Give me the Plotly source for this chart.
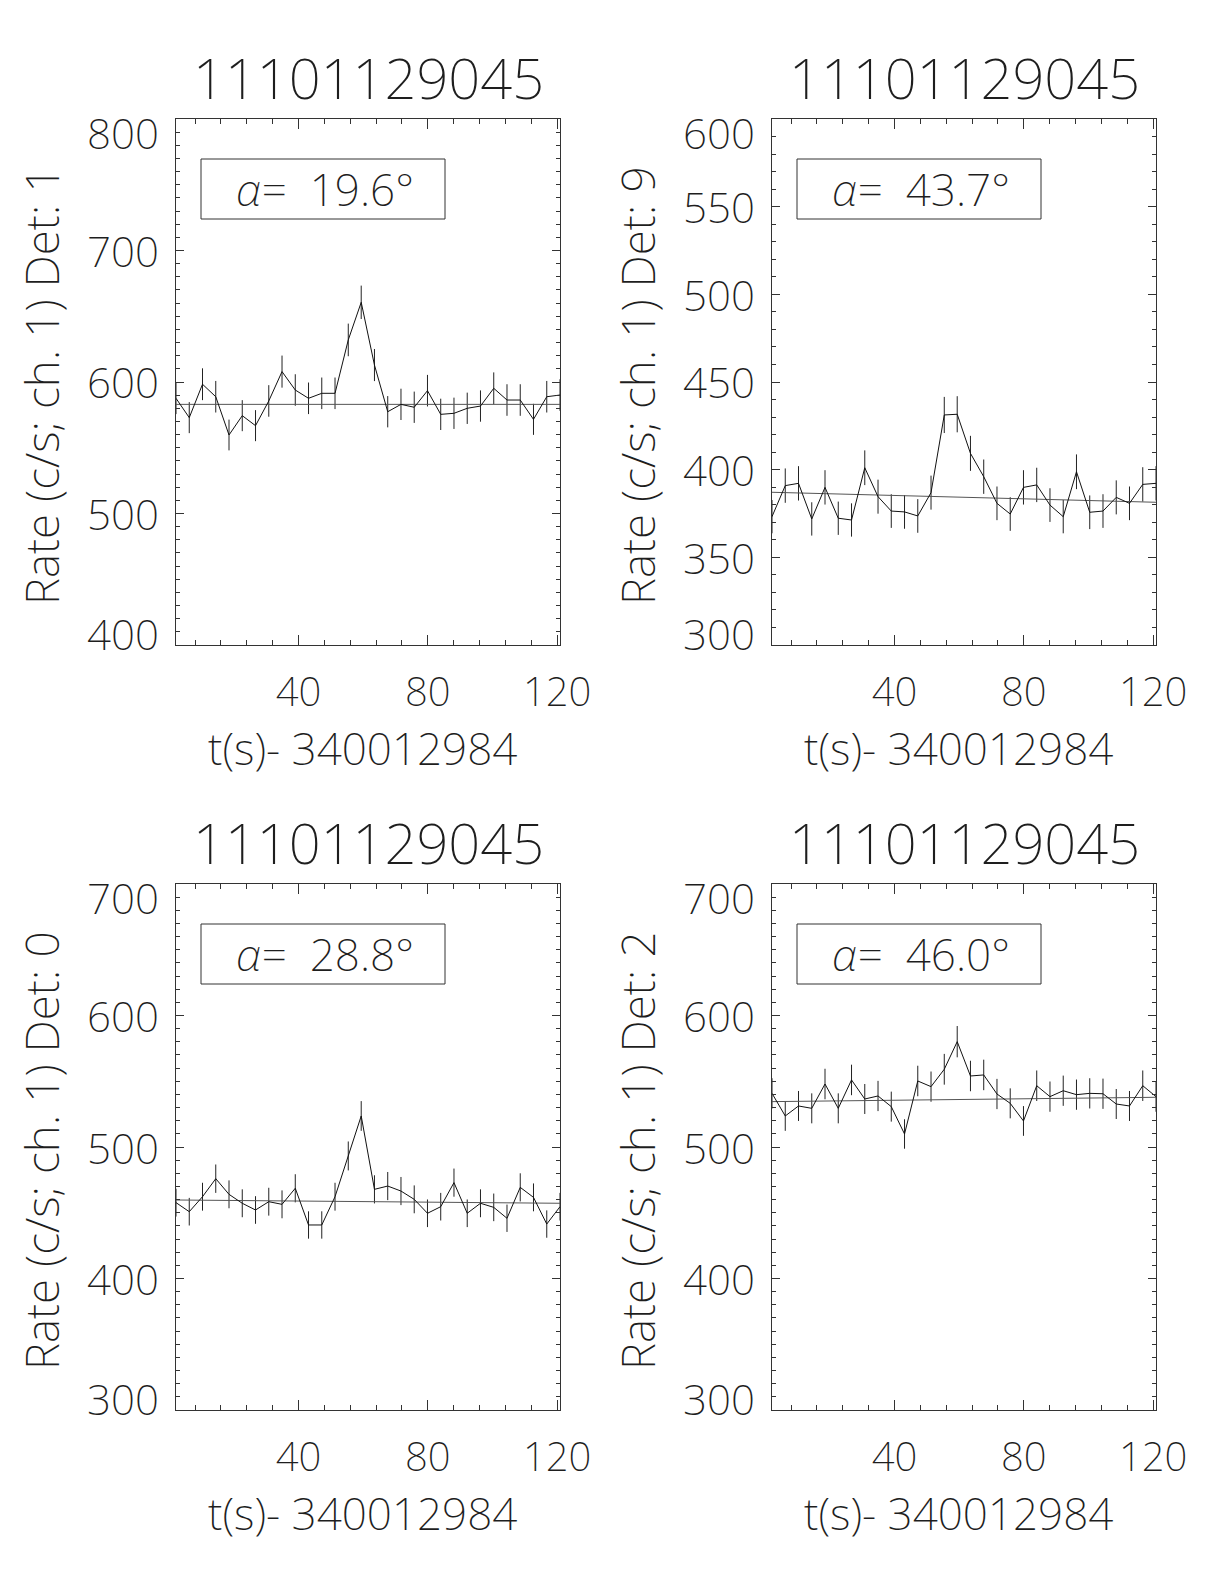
import plotly.graph_objects as go

# page body adds an 8px margin; lay out in page pixels and shift by it
PAGE_W, PAGE_H = 1224, 1584
OFF = 8
W, H = PAGE_W - OFF, PAGE_H - OFF

# ---- data ----
time_s = [2.1, 6.2, 10.3, 14.4, 18.5, 22.6, 26.7, 30.8, 34.9, 39.0,
          43.1, 47.2, 51.3, 55.4, 59.4, 63.5, 67.6, 71.7, 75.8, 79.9,
          84.0, 88.1, 92.2, 96.3, 100.4, 104.5, 108.6, 112.7, 116.8, 120.9]

rate_det1 = [587.6, 572.9, 598.3, 588.8, 559.7, 574.4, 566.8, 585.6, 607.9, 593.9,
             587.6, 591.4, 591.4, 632.0, 660.6, 612.9, 577.4, 583.0, 580.8, 593.4,
             575.4, 576.2, 580.0, 581.7, 595.2, 586.3, 586.3, 571.6, 588.8, 590.1]
err_det1 = [12.0, 11.8, 12.1, 12.0, 11.7, 11.8, 11.8, 12.0, 12.2, 12.0,
            12.0, 12.0, 12.0, 12.4, 12.7, 12.2, 11.9, 11.9, 11.9, 12.0,
            11.9, 11.9, 11.9, 11.9, 12.1, 12.0, 12.0, 11.8, 12.0, 12.0]
bkg_det1 = [583.0, 583.0]

rate_det9 = [373.2, 390.9, 392.2, 371.9, 389.9, 372.3, 371.3, 401.1, 384.6, 376.4,
             375.9, 373.6, 386.9, 431.2, 431.6, 409.3, 396.0, 380.8, 374.7, 389.9,
             391.3, 379.8, 373.2, 398.8, 375.7, 376.4, 384.2, 380.8, 391.6, 392.2]
err_det9 = [9.5, 9.8, 9.8, 9.5, 9.8, 9.5, 9.5, 9.9, 9.7, 9.6,
            9.6, 9.6, 9.7, 10.3, 10.3, 10.0, 9.8, 9.6, 9.6, 9.8,
            9.8, 9.6, 9.5, 9.9, 9.6, 9.6, 9.7, 9.6, 9.8, 9.8]
bkg_det9 = [387.1, 381.4]

rate_det0 = [457.7, 450.8, 462.2, 475.9, 464.0, 457.2, 452.1, 458.4, 456.4, 468.6,
             440.7, 440.7, 462.2, 493.2, 523.6, 467.8, 470.3, 466.5, 460.2, 449.6,
             454.6, 472.9, 449.6, 457.2, 454.1, 445.8, 469.3, 461.7, 441.4, 454.6]
err_det0 = [10.6, 10.5, 10.6, 10.8, 10.6, 10.6, 10.5, 10.6, 10.6, 10.7,
            10.4, 10.4, 10.6, 11.0, 11.3, 10.7, 10.7, 10.7, 10.6, 10.5,
            10.5, 10.7, 10.5, 10.6, 10.5, 10.4, 10.7, 10.6, 10.4, 10.5]
bkg_det0 = [459.7, 457.2]

rate_det2 = [540.8, 523.6, 531.2, 529.4, 547.9, 529.4, 551.0, 536.5, 538.8, 530.7,
             509.9, 550.2, 545.9, 559.1, 580.1, 554.0, 554.8, 540.3, 533.2, 519.8,
             546.6, 538.3, 542.8, 539.8, 540.8, 540.5, 532.7, 531.2, 546.6, 538.3]
err_det2 = [11.5, 11.3, 11.4, 11.4, 11.6, 11.4, 11.6, 11.4, 11.5, 11.4,
            11.2, 11.6, 11.5, 11.7, 11.9, 11.6, 11.6, 11.5, 11.4, 11.3,
            11.6, 11.5, 11.5, 11.5, 11.5, 11.5, 11.4, 11.4, 11.6, 11.5]
bkg_det2 = [534.5, 537.8]

burst_id = "11101129045"
time_offset_label = "t(s)- 340012984"
det_labels = ["1", "9", "0", "2"]
alpha_deg = ["19.6", "43.7", "28.8", "46.0"]
y_ranges = [[400, 800], [300, 600], [300, 700], [300, 700]]
y_ticks = [[400, 500, 600, 700, 800],
           [300, 350, 400, 450, 500, 550, 600],
           [300, 400, 500, 600, 700],
           [300, 400, 500, 600, 700]]
x_tickvals = [40, 80, 120]

panels = [
    (rate_det1, err_det1, bkg_det1),
    (rate_det9, err_det9, bkg_det9),
    (rate_det0, err_det0, bkg_det0),
    (rate_det2, err_det2, bkg_det2),
]

# ---- layout geometry (page pixels) ----
px_x = [(176, 560), (772, 1156), (176, 560), (772, 1156)]
px_y = [(119, 645), (119, 645), (884, 1410), (884, 1410)]

FAM = "Noto Sans"
WT = 200
TXT = "#1e1e1e"
AX = "#333333"


def F(sz):
    return dict(family=FAM, size=sz, color=TXT, weight=WT)


def fx(p):
    return (p - OFF) / W


def fy(p):
    return 1 - (p - OFF) / H


fig = go.Figure()
annotations = []
shapes = []

for i, (rate, err, bkg) in enumerate(panels):
    n = i + 1
    xa = "x" if n == 1 else f"x{n}"
    ya = "y" if n == 1 else f"y{n}"
    ex, ey = [], []
    for t, r, e in zip(time_s, rate, err):
        ex += [t, t, None]
        ey += [r - e, r + e, None]
    fig.add_trace(go.Scatter(x=ex, y=ey, mode="lines", xaxis=xa, yaxis=ya,
                             line=dict(color="#222222", width=1), showlegend=False,
                             hoverinfo="skip"))
    fig.add_trace(go.Scatter(x=[time_s[0], time_s[-1]], y=bkg, mode="lines",
                             xaxis=xa, yaxis=ya,
                             line=dict(color="#555555", width=1), showlegend=False))
    fig.add_trace(go.Scatter(x=time_s, y=rate, mode="lines", xaxis=xa, yaxis=ya,
                             line=dict(color="#111111", width=1), showlegend=False))

    x0, x1 = px_x[i]
    y0, y1 = px_y[i]
    xk = "xaxis" if n == 1 else f"xaxis{n}"
    yk = "yaxis" if n == 1 else f"yaxis{n}"
    fig.layout[xk] = dict(
        domain=[fx(x0), fx(x1)], anchor=ya, range=[time_s[0], time_s[-1]],
        automargin=False,
        showgrid=False, zeroline=False, showline=True, linecolor=AX, linewidth=1,
        mirror="ticks", ticks="inside", ticklen=10, tickcolor=AX, tickwidth=1,
        tickvals=x_tickvals, ticklabelstandoff=12, tickfont=F(40),
        minor=dict(ticks="inside", ticklen=5, dtick=8, tick0=0, tickcolor=AX),
    )
    yt = y_ticks[i]
    fig.layout[yk] = dict(
        domain=[fy(y1), fy(y0)], anchor=xa, range=y_ranges[i],
        automargin=False,
        showgrid=False, zeroline=False, showline=True, linecolor=AX, linewidth=1,
        mirror="ticks", ticks="inside", ticklen=8, tickcolor=AX, tickwidth=1,
        tickvals=yt, showticklabels=False,
        minor=dict(ticks="inside", ticklen=4, dtick=10, tick0=0, tickcolor=AX),
    )
    # y tick labels (outermost ones are nudged inward, as in the original)
    for j, v in enumerate(yt):
        shift = 0
        if j == len(yt) - 1:
            shift = -14
        elif j == 0:
            shift = 12
        annotations.append(dict(text=str(v), x=fx(x0 - 15), y=v, xref="paper",
                                yref=ya, showarrow=False, xanchor="right",
                                yanchor="middle", yshift=shift, font=F(42)))
    cx = (x0 + x1) / 2
    annotations.append(dict(text=burst_id, x=fx(cx), y=fy(y0 - 42), xref="paper",
                            yref="paper", showarrow=False, xanchor="center",
                            yanchor="middle", font=F(56)))
    annotations.append(dict(text=time_offset_label, x=fx(cx - 6), y=fy(y1 + 103),
                            xref="paper", yref="paper", showarrow=False,
                            xanchor="center", yanchor="middle", font=F(44)))
    annotations.append(dict(text=f"Rate (c/s; ch. 1) Det: {det_labels[i]}",
                            x=fx(x0 - 135), y=fy((y0 + y1) / 2 + 4), xref="paper",
                            yref="paper", showarrow=False, textangle=-90,
                            xanchor="center", yanchor="middle", font=F(46)))
    bx0, bx1 = x0 + 25, x0 + 269
    by0, by1 = y0 + 40, y0 + 100
    shapes.append(dict(type="rect", xref="paper", yref="paper",
                       x0=fx(bx0), x1=fx(bx1), y0=fy(by1), y1=fy(by0),
                       line=dict(color=AX, width=1)))
    annotations.append(dict(text=f"<i>α</i>=&nbsp; {alpha_deg[i]}°",
                            x=fx((bx0 + bx1) / 2 + 2), y=fy((by0 + by1) / 2),
                            xref="paper", yref="paper", showarrow=False,
                            xanchor="center", yanchor="middle", font=F(44)))

fig.update_layout(width=W, height=H, margin=dict(l=0, r=0, t=0, b=0),
                  paper_bgcolor="white", plot_bgcolor="white",
                  annotations=annotations, shapes=shapes, showlegend=False)

fig.write_html("out.html")
